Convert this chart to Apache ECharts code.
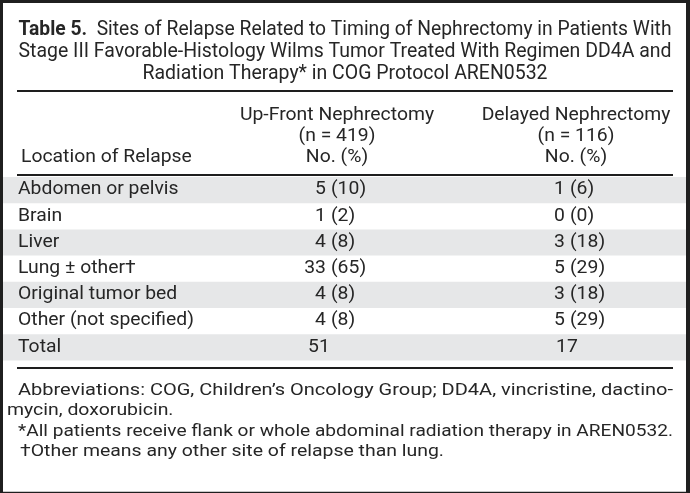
<!DOCTYPE html>
<html><head><meta charset="utf-8">
<script src="https://cdn.jsdelivr.net/npm/echarts@6/dist/echarts.min.js"></script>
<style>html,body{margin:0;padding:0;background:#1f1f1f}#c{width:690px;height:493px}</style>
</head><body><div id="c"></div><script>
// ---------- data ----------
const titleBold = 'Table 5.';
const titleLines = [
  'Sites of Relapse Related to Timing of Nephrectomy in Patients With',
  'Stage III Favorable-Histology Wilms Tumor Treated With Regimen DD4A and',
  'Radiation Therapy* in COG Protocol AREN0532'
];
const stubHeader = 'Location of Relapse';
const upFrontHeader = ['Up-Front Nephrectomy', '(n = 419)', 'No. (%)'];
const delayedHeader = ['Delayed Nephrectomy', '(n = 116)', 'No. (%)'];
const categories = ['Abdomen or pelvis', 'Brain', 'Liver', 'Lung \u00b1 other\u2020',
  'Original tumor bed', 'Other (not specified)', 'Total'];
const upFrontN   = [5, 1, 4, 33, 4, 4, 51];
const upFrontPct = [10, 2, 8, 65, 8, 8, null];
const delayedN   = [1, 0, 3, 5, 3, 5, 17];
const delayedPct = [6, 0, 18, 29, 18, 29, null];
const footnotes = [
  'Abbreviations: COG, Children\u2019s Oncology Group; DD4A, vincristine, dactino-',
  'mycin, doxorubicin.',
  '*All patients receive flank or whole abdominal radiation therapy in AREN0532.',
  '\u2020Other means any other site of relapse than lung.'
];

// ---------- style / layout ----------
const INK = '#262626', SHADE = '#e6e7e8', RULE = '#1e1e1e';
function hasFont(name){
  const c = document.createElement('canvas').getContext('2d');
  const s = 'abcdefghijklmnopqrstuvwxyz ABCDEFGHIJ 0123456789';
  c.font = '40px monospace'; const w1 = c.measureText(s).width;
  c.font = '40px "' + name + '", monospace'; const w2 = c.measureText(s).width;
  return Math.abs(w1 - w2) > 0.5;
}
const FAM = hasFont('Liberation Sans Narrow') ? 'Liberation Sans Narrow' : (hasFont('Roboto') ? 'Roboto' : 'sans-serif');
const FQ = '"' + FAM + '"';
const mctx = document.createElement('canvas').getContext('2d');
function measure(text, fs, weight){ mctx.font = (weight||'normal') + ' ' + fs + 'px ' + FQ; return mctx.measureText(text).width; }

const FS_TITLE = 19.5, FS_BODY = 17.5, FS_NOTE = 16;
const bodyScale = 176 / measure('Other (not specified)', FS_BODY);
const titleScale = 653 / measure(titleLines[1], FS_TITLE);
const noteScale = 424 / measure(footnotes[3], FS_NOTE);

function T(text, x, y, align, fs, scale, weight){
  return { type: 'text', x: x, y: y, scaleX: scale, silent: true,
    style: { text: text, x: 0, y: 0, align: align, textAlign: align, verticalAlign: 'middle', textVerticalAlign: 'middle',
      font: (weight||'normal') + ' ' + fs + 'px ' + FQ, fill: INK } };
}

const COL1_X = 18;
const C2_NUM = 326, C2_PCT = 331, C2_TOT = 308, C2_CEN = 337;
const C3_NUM = 565, C3_PCT = 570, C3_TOT = 556, C3_CEN = 576;

const graphics = [];
// page frame
graphics.push({ type: 'rect', shape: { x: 3, y: 3, width: 683, height: 488 }, style: { fill: '#ffffff' }, silent: true, z: -10 });
graphics.push({ type: 'rect', shape: { x: 3, y: 491, width: 683, height: 1 }, style: { fill: '#c8c8c8' }, silent: true, z: -10 });
// title
const l1w = measure(titleBold, FS_TITLE, 'bold') + measure('  ' + titleLines[0], FS_TITLE);
graphics.push({ type: 'text', x: 345, y: 30.5, scaleX: 653 / l1w, silent: true,
  style: { text: '{b|' + titleBold + '}  ' + titleLines[0], x: 0, y: 0, align: 'center', textAlign: 'center', verticalAlign: 'middle', textVerticalAlign: 'middle',
    font: 'normal ' + FS_TITLE + 'px ' + FQ, fontFamily: FAM, fontSize: FS_TITLE, fill: INK,
    rich: { b: { fontWeight: 'bold', fontFamily: FAM, fontSize: FS_TITLE, fill: INK } } } });
graphics.push(T(titleLines[1], 345, 52.5, 'center', FS_TITLE, titleScale));
graphics.push(T(titleLines[2], 345, 74.5, 'center', FS_TITLE, titleScale));
// rules
[90, 174, 367].forEach(function(y){
  graphics.push({ type: 'rect', shape: { x: 17, y: y, width: 656, height: 2 }, style: { fill: RULE }, silent: true });
});
// column headers
const hy = [116, 137, 158];
upFrontHeader.forEach(function(t, k){ graphics.push(T(t, C2_CEN, hy[k], 'center', FS_BODY, bodyScale)); });
delayedHeader.forEach(function(t, k){ graphics.push(T(t, C3_CEN, hy[k], 'center', FS_BODY, bodyScale)); });
graphics.push(T(stubHeader, 21, hy[2], 'left', FS_BODY, bodyScale));
// footnotes
const fy = [390.5, 411, 431.5, 452];
graphics.push(T(footnotes[0], 18, fy[0], 'left', FS_NOTE, 655 / measure(footnotes[0], FS_NOTE)));
graphics.push(T(footnotes[1], 7, fy[1], 'left', FS_NOTE, noteScale));
graphics.push(T(footnotes[2], 18, fy[2], 'left', FS_NOTE, 655 / measure(footnotes[2], FS_NOTE)));
graphics.push(T(footnotes[3], 20, fy[3], 'left', FS_NOTE, noteScale));

function cell(n, p, numX, pctX, totX, cy){
  const out = [];
  if (p === null) { out.push(T(String(n), totX, cy, 'left', FS_BODY, bodyScale)); }
  else {
    out.push(T(String(n), numX, cy, 'right', FS_BODY, bodyScale));
    out.push(T('(' + p + ')', pctX, cy, 'left', FS_BODY, bodyScale));
  }
  return out;
}

const chart = echarts.init(document.getElementById('c'), null, { renderer: 'canvas' });
chart.setOption({
  backgroundColor: '#1f1f1f',
  animation: false,
  graphic: graphics,
  grid: { left: 3, right: 4, top: 177, height: 183.4, containLabel: false },
  xAxis: { type: 'value', min: 0, max: 1, show: false },
  yAxis: { type: 'category', data: categories, inverse: true, show: false },
  series: [{
    type: 'custom',
    encode: { x: 0, y: 1 },
    data: categories.map(function(_, i){ return [0, i]; }),
    z: 5,
    renderItem: function(params, api){
      const i = api.value(1);
      const pt = api.coord([0, i]);
      const bandH = api.size([0, 1])[1];
      const cy = pt[1];
      const children = [];
      if (i % 2 === 0) children.push({ type: 'rect', shape: { x: params.coordSys.x, y: cy - bandH / 2, width: params.coordSys.width, height: bandH }, style: { fill: SHADE } });
      children.push(T(categories[i], COL1_X, cy, 'left', FS_BODY, bodyScale));
      cell(upFrontN[i], upFrontPct[i], C2_NUM, C2_PCT, C2_TOT, cy).forEach(function(e){ children.push(e); });
      cell(delayedN[i], delayedPct[i], C3_NUM, C3_PCT, C3_TOT, cy).forEach(function(e){ children.push(e); });
      return { type: 'group', children: children };
    }
  }]
});
</script></body></html>
